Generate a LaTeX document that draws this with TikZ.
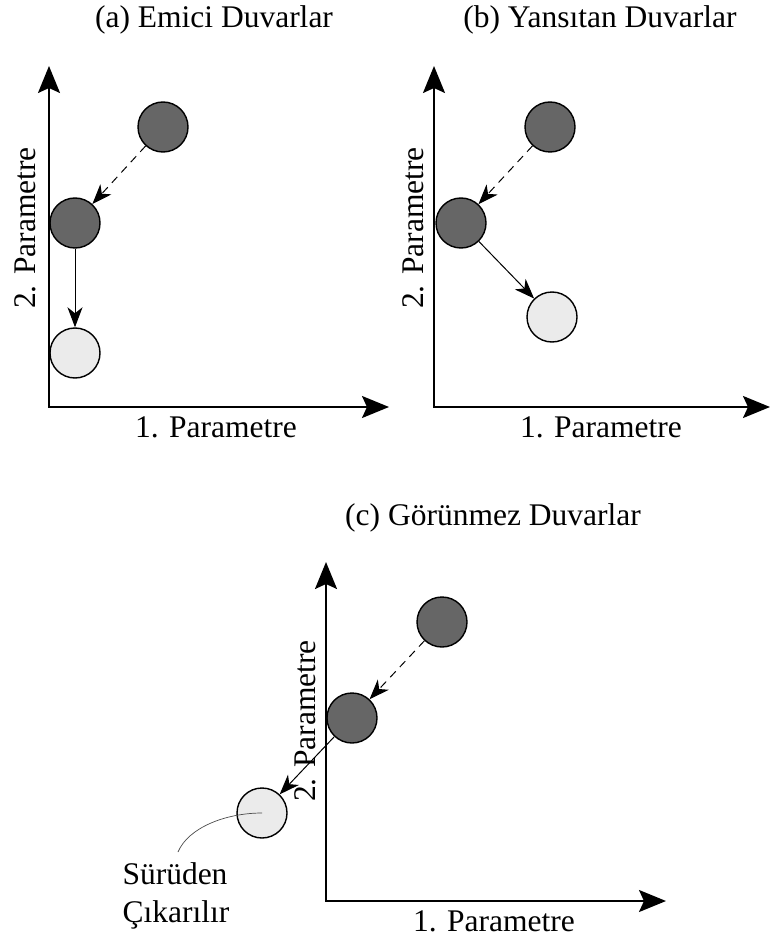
\documentclass[tikz,border=0pt]{standalone}
\usepackage{fontspec}
\setmainfont{Liberation Serif}
\usetikzlibrary{arrows.meta}
\definecolor{darkfill}{HTML}{666666}
\definecolor{lightfill}{HTML}{EBEBEB}
\begin{document}
\begin{tikzpicture}[x=1pt, y=-1pt,
  dot/.style={circle, draw=black, line width=1.4pt, minimum size=50pt, inner sep=0pt},
  darkdot/.style={dot, fill=darkfill},
  lightdot/.style={dot, fill=lightfill},
  axis/.style={line width=2pt, {Stealth[length=27pt,width=22pt,inset=5pt]}-{Stealth[length=27pt,width=22pt,inset=5pt]}},
  move/.style={line width=1pt, -{Stealth[length=20pt,width=15pt,inset=6pt]}},
  dashmove/.style={move, dash pattern=on 8pt off 6pt},
  lbl/.style={font=\fontsize{31.5}{38}\selectfont, inner sep=0pt},
  note/.style={draw=black!70, line width=0.7pt}
]
\useasboundingbox (0,0) rectangle (771,941);

% ---------- (a) ----------
\coordinate (ao) at (49,407);
\coordinate (ay) at (49,66);
\coordinate (ax) at (389,407);
\draw[axis] (ay) -- (ao) -- (ax);
\node[lbl, anchor=base] (ta) at (214,28) {(a) Emici Duvarlar};
\node[lbl, anchor=base] (xa) at (216,437) {1. Parametre};
\node[lbl, anchor=base, rotate=90] (ya) at (35,228) {2. Parametre};
\node[darkdot] (a1) at (163,127) {};
\node[darkdot] (a2) at (75,223) {};
\node[lightdot] (a3) at (75,353) {};
\draw[dashmove] (a1) -- (a2);
\draw[move] (a2) -- (a3);

% ---------- (b) ----------
\coordinate (bo) at (434,407);
\coordinate (by) at (434,66);
\coordinate (bx) at (770,407);
\draw[axis] (by) -- (bo) -- (bx);
\node[lbl, anchor=base] (tb) at (600,28) {(b) Yansıtan Duvarlar};
\node[lbl, anchor=base] (xb) at (601,437) {1. Parametre};
\node[lbl, anchor=base, rotate=90] (yb) at (423,228) {2. Parametre};
\node[darkdot] (b1) at (550,127) {};
\node[darkdot] (b2) at (461,223) {};
\node[lightdot] (b3) at (552,317) {};
\draw[dashmove] (b1) -- (b2);
\draw[move] (b2) -- (b3);

% ---------- (c) ----------
\coordinate (co) at (326,901);
\coordinate (cy) at (326,562);
\coordinate (cx) at (666,901);
\draw[axis] (cy) -- (co) -- (cx);
\node[lbl, anchor=base west] (tc) at (345,525) {(c) Görünmez Duvarlar};
\node[lbl, anchor=base] (xc) at (494,931) {1. Parametre};
\node[lbl, anchor=base, rotate=90] (yc) at (315,721) {2. Parametre};
\node[darkdot] (c1) at (442,622) {};
\node[darkdot] (c2) at (352,718) {};
\node[lightdot] (c3) at (262,813) {};
\draw[dashmove] (c1) -- (c2);
\draw[move] (c2) -- (c3);

\node[lbl, anchor=base] (n1) at (175,884) {Sürüden};
\node[lbl, anchor=base] (n2) at (176,922) {Çıkarılır};
\coordinate (nend) at (178,852);
\draw[note] (c3.center) .. controls (225,813) and (188,828) .. (nend);
\end{tikzpicture}
\end{document}
